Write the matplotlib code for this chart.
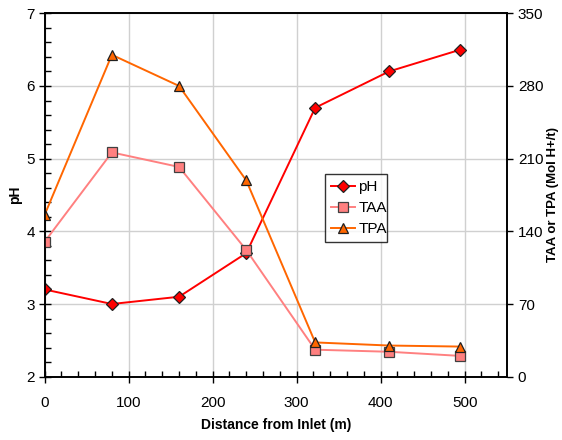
import matplotlib
matplotlib.use("Agg")
import matplotlib.pyplot as plt
from matplotlib.ticker import MultipleLocator

plt.rcParams['font.family'] = ['Liberation Sans', 'DejaVu Sans']

distance = [0, 80, 160, 240, 322, 410, 495]
ph = [3.2, 3.0, 3.1, 3.7, 5.7, 6.2, 6.5]
taa = [130, 216, 202, 122, 26, 24, 20]
tpa = [156, 310, 280, 189, 33, 30, 29]

fig = plt.figure(figsize=(5.62, 4.40), dpi=100)
ax = fig.add_axes([0.0795, 0.1439, 0.8221, 0.8259])
ax2 = ax.twinx()

ax.set_xlim(0, 550)
ax.set_ylim(2, 7)
ax2.set_ylim(0, 350)

ax.xaxis.set_major_locator(MultipleLocator(100))
ax.xaxis.set_minor_locator(MultipleLocator(20))
ax.yaxis.set_major_locator(MultipleLocator(1))
ax.yaxis.set_minor_locator(MultipleLocator(0.2))
ax2.yaxis.set_major_locator(MultipleLocator(70))
ax.set_xticks([0, 100, 200, 300, 400, 500])

ax.grid(True, which='major', color='#d0d0d0', linewidth=1.0)
ax.set_axisbelow(True)

ax.tick_params(axis='both', which='major', direction='inout', length=8, width=1,
               labelsize=11, pad=3)
ax.tick_params(axis='both', which='minor', direction='in', length=4, width=1)
ax.tick_params(axis='x', which='major', pad=10)
ax2.tick_params(axis='y', which='major', direction='out', length=4, width=1,
                labelsize=11, pad=4)

for sp in list(ax.spines.values()) + list(ax2.spines.values()):
    sp.set_linewidth(1.2)

l1, = ax.plot(distance, ph, color='#ff0000', lw=1.4, marker='D', markersize=6,
              markerfacecolor='#ff0000', markeredgecolor='#202020',
              markeredgewidth=0.9, label='pH')
l2, = ax2.plot(distance, taa, color='#ff8080', lw=1.4, marker='s', markersize=7,
               markerfacecolor='#ff8080', markeredgecolor='#404040',
               markeredgewidth=0.9, label='TAA')
l3, = ax2.plot(distance, tpa, color='#ff6600', lw=1.4, marker='^', markersize=7.5,
               markerfacecolor='#ff6600', markeredgecolor='#202020',
               markeredgewidth=0.9, label='TPA')

ax.set_xlabel('Distance from Inlet (m)', fontsize=10, fontweight='bold', labelpad=6)
ax.set_ylabel('pH', fontsize=10, fontweight='bold', labelpad=3)
ax2.set_ylabel('TAA or TPA (Mol H+/t)', fontsize=9.5, fontweight='bold', labelpad=3)

leg = ax2.legend(handles=[l1, l2, l3], loc='lower left',
                 bbox_to_anchor=(0.606, 0.37, 0.136, 0.2), mode='expand',
                 fontsize=11, frameon=True, fancybox=False, handlelength=1.6,
                 handletextpad=0.2, borderpad=0.4, labelspacing=0.45,
                 borderaxespad=0)
leg.get_frame().set_edgecolor('black')
leg.get_frame().set_linewidth(1.0)

fig.savefig('out.png', dpi=100)
